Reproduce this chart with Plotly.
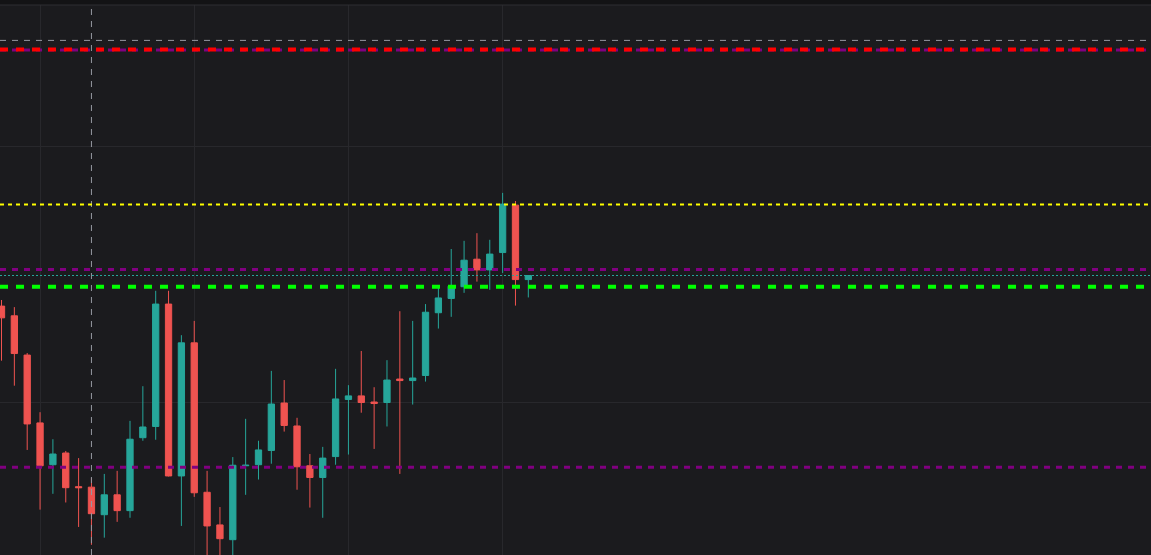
import plotly.graph_objects as go

# ---- data ----
bar_index = list(range(42))
open_ = [251.88, 251.69, 250.92, 249.59, 248.77, 249.00, 248.34, 248.33, 247.79, 248.18,
         247.87, 249.30, 249.52, 251.92, 248.55, 251.16, 248.23, 247.59, 247.30, 248.75,
         248.77, 249.05, 249.98, 249.53, 248.75, 248.52, 248.93, 250.05, 250.12, 250.00,
         249.99, 250.45, 250.42, 250.52, 251.75, 252.03, 252.26, 252.80, 252.59, 252.93,
         253.86, 252.40]
high = [252.00, 251.86, 250.96, 249.80, 249.27, 249.04, 248.90, 248.51, 248.59, 248.65,
        249.63, 250.31, 252.18, 252.18, 251.31, 251.59, 248.65, 247.94, 248.92, 249.67,
        249.24, 250.61, 250.43, 249.69, 248.98, 249.12, 250.65, 250.33, 251.00, 250.29,
        250.82, 251.78, 251.59, 251.92, 252.29, 253.00, 253.16, 253.31, 253.18, 254.10,
        253.94, 252.49]
low = [250.81, 250.32, 249.06, 247.89, 248.20, 248.03, 247.55, 247.20, 247.34, 247.65,
       247.73, 249.24, 249.26, 248.54, 247.57, 248.14, 246.86, 246.67, 246.86, 248.18,
       248.48, 248.79, 249.42, 248.28, 247.93, 247.73, 248.77, 248.97, 249.79, 249.08,
       249.52, 248.59, 249.95, 250.40, 251.44, 251.67, 252.14, 252.36, 252.20, 252.53,
       251.89, 252.05]
close = [251.65, 250.95, 249.57, 248.75, 248.98, 248.32, 248.32, 247.81, 248.18, 247.87,
         249.27, 249.51, 251.92, 248.55, 251.16, 248.22, 247.57, 247.32, 248.76, 248.76,
         249.06, 249.96, 249.54, 248.73, 248.52, 248.90, 250.06, 250.12, 249.99, 249.97,
         250.43, 250.42, 250.47, 251.76, 252.04, 252.27, 252.78, 252.59, 252.90, 253.88,
         252.40, 252.48]

time_grid_bars = [3, 15, 27, 39]
price_grid = [250, 255]

level_names = ["red", "purple_top", "yellow", "purple_mid", "green", "purple_low"]
level_values = [256.91, 256.90, 253.87, 252.60, 252.26, 248.72]
crosshair_bar = 7
crosshair_price = 257.09

# ---- styles ----
UP = "#26a69a"
DOWN = "#ef5350"
level_styles = {
    "purple_top": dict(color="#800080", width=3, dash="6px,6px"),
    "red": dict(color="#ff0000", width=4, dash="8px,8px"),
    "yellow": dict(color="#ffff00", width=2, dash="4px,4px"),
    "purple_mid": dict(color="#800080", width=3, dash="6px,6px"),
    "green": dict(color="#00ff00", width=4, dash="8px,8px"),
    "purple_low": dict(color="#800080", width=3, dash="6px,6px"),
}
draw_order = ["purple_top", "red", "yellow", "purple_mid", "green", "purple_low"]

fig = go.Figure()
fig.add_trace(go.Candlestick(
    x=bar_index, open=open_, high=high, low=low, close=close,
    increasing=dict(line=dict(color=UP, width=1), fillcolor=UP),
    decreasing=dict(line=dict(color=DOWN, width=1), fillcolor=DOWN),
    whiskerwidth=0, showlegend=False, hoverinfo="skip",
))

shapes = []
# crosshair
shapes.append(dict(type="line", xref="x", yref="paper", x0=crosshair_bar, x1=crosshair_bar,
                   y0=0, y1=1, line=dict(color="#9598a1", width=1, dash="6px,6px"), layer="above"))
shapes.append(dict(type="line", xref="paper", yref="y", x0=0, x1=1,
                   y0=crosshair_price, y1=crosshair_price,
                   line=dict(color="#9598a1", width=1, dash="6px,6px"), layer="above"))
lv = dict(zip(level_names, level_values))
for name in draw_order:
    shapes.append(dict(type="line", xref="paper", yref="y", x0=0, x1=1,
                       y0=lv[name], y1=lv[name], line=level_styles[name], layer="above"))
# last price line
shapes.append(dict(type="line", xref="paper", yref="y", x0=0, x1=1,
                   y0=close[-1], y1=close[-1],
                   line=dict(color=UP, width=1, dash="2px,2px"), layer="above"))
# top border
shapes.append(dict(type="line", xref="paper", yref="paper", x0=0, x1=1, y0=1, y1=1,
                   line=dict(color="#2e2e32", width=1), layer="above"))

fig.update_layout(
    width=1151, height=555,
    margin=dict(l=0, r=0, t=5, b=0),
    paper_bgcolor="#131315",
    plot_bgcolor="#1b1b1e",
    shapes=shapes,
    showlegend=False,
    xaxis=dict(range=[-0.117, 89.46], rangeslider=dict(visible=False),
               showticklabels=False, ticks="", zeroline=False,
               showgrid=True, gridcolor="#28282c", gridwidth=1,
               tickmode="array", tickvals=time_grid_bars),
    yaxis=dict(range=[247.0, 257.784], showticklabels=False, ticks="", zeroline=False,
               showgrid=True, gridcolor="#28282c", gridwidth=1,
               tickmode="array", tickvals=price_grid),
)

fig.write_html(
    "out.html",
    config={"displayModeBar": False},
    post_script="document.body.style.margin='0';document.body.style.overflow='hidden';"
                "document.body.style.background='#131315';",
)
